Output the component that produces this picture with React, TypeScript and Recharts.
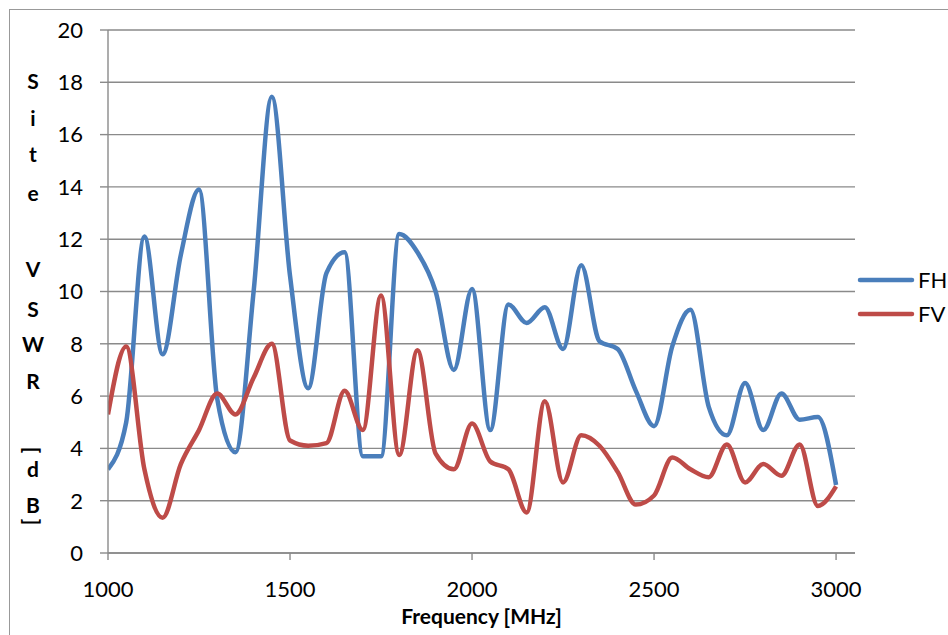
import { LineChart, Line, XAxis, YAxis, CartesianGrid } from "recharts";

// frequency in MHz, 50 MHz steps
const freqs = [
  1000, 1050, 1100, 1150, 1200, 1250, 1300, 1350, 1400, 1450,
  1500, 1550, 1600, 1650, 1700, 1750, 1800, 1850, 1900, 1950,
  2000, 2050, 2100, 2150, 2200, 2250, 2300, 2350, 2400, 2450,
  2500, 2550, 2600, 2650, 2700, 2750, 2800, 2850, 2900, 2950, 3000,
];

const fh = [
  3.2, 5.0, 12.1, 7.6, 11.4, 13.9, 5.9, 3.85, 10.0, 17.45,
  10.6, 6.3, 10.7, 11.5, 3.7, 3.7, 12.2, 11.5, 10.0, 7.0,
  10.1, 4.7, 9.5, 8.8, 9.4, 7.8, 11.0, 8.1, 7.8, 6.2,
  4.85, 7.9, 9.3, 5.6, 4.5, 6.5, 4.7, 6.1, 5.1, 5.2, 2.6,
];

const fv = [
  5.3, 7.9, 3.2, 1.35, 3.4, 4.7, 6.1, 5.3, 6.7, 8.0,
  4.3, 4.1, 4.2, 6.2, 4.7, 9.85, 3.75, 7.75, 3.8, 3.2,
  4.95, 3.5, 3.2, 1.55, 5.8, 2.7, 4.5, 4.1, 3.1, 1.85,
  2.2, 3.65, 3.2, 2.9, 4.15, 2.7, 3.4, 2.95, 4.15, 1.8, 2.55,
];

const xTicks = [1000, 1500, 2000, 2500, 3000];
const yTicks = [0, 2, 4, 6, 8, 10, 12, 14, 16, 18, 20];
const yLabelChars = ["S", "i", "t", "e", "V", "S", "W", "R", "[", "d", "B", "]"];

const data = freqs.map((f, i) => ({ f, FH: fh[i], FV: fv[i] }));

const FONT = "Lato, 'Open Sans', sans-serif";
const GRID = "#8a8a8a";
const BLUE = "#4a7ebb";
const RED = "#be4b48";

// centre of each stacked letter of the y axis title
const letterY = [80, 117, 153, 192, 268, 308, 343, 380, 450, 468, 504, 522];

const YTitle = () => (
  <g>
    {yLabelChars.map((ch, i) => {
      const rotated = ch === "[" || ch === "]";
      return (
        <g key={i} transform={`translate(33 ${letterY[i]})${rotated ? " rotate(90)" : ""}`}>
          <text
            x={0}
            y={0}
            textAnchor="middle"
            dominantBaseline="central"
            fontFamily={FONT}
            fontWeight="bold"
            fontSize={21}
            fill="#000"
          >
            {ch}
          </text>
        </g>
      );
    })}
  </g>
);

const legendItems = [
  { name: "FH", color: BLUE, top: 280 },
  { name: "FV", color: RED, top: 314 },
];

export default function App() {
  return (
    <div style={{ position: "absolute", left: 0, top: 0, width: 948, height: 635, overflow: "hidden", background: "#fff" }}>
      <div style={{ position: "absolute", left: 9, top: 9, width: 1000, height: 700, border: "1px solid #999" }} />
      <LineChart
        width={948}
        height={635}
        data={data}
        margin={{ top: 30, right: 93, bottom: 0, left: 0 }}
        style={{ position: "absolute", left: 0, top: 0 }}
      >
        <CartesianGrid vertical={false} stroke={GRID} strokeWidth={1.4} />
        <XAxis
          dataKey="f"
          type="number"
          domain={[1000, 3052]}
          ticks={xTicks}
          allowDataOverflow
          height={82}
          tickSize={7}
          tickMargin={21}
          interval={0}
          stroke={GRID}
          strokeWidth={1.4}
          tick={{ fill: "#000", fontSize: 22, fontFamily: FONT }}
          label={{
            value: "Frequency [MHz]",
            position: "insideBottom",
            offset: 11,
            style: { fill: "#000", fontSize: 21, fontWeight: "bold", fontFamily: FONT },
          }}
        />
        <YAxis
          domain={[0, 20]}
          ticks={yTicks}
          width={108}
          tickSize={8}
          tickMargin={17}
          interval={0}
          stroke={GRID}
          strokeWidth={1.4}
          tick={{ fill: "#000", fontSize: 22, fontFamily: FONT }}
          label={{ content: () => <YTitle /> }}
        />
        <Line
          type="monotone"
          dataKey="FH"
          stroke={BLUE}
          strokeWidth={4.5}
          dot={false}
          isAnimationActive={false}
        />
        <Line
          type="monotone"
          dataKey="FV"
          stroke={RED}
          strokeWidth={4.5}
          dot={false}
          isAnimationActive={false}
        />
      </LineChart>
      {legendItems.map((it) => (
        <div
          key={it.name}
          style={{ position: "absolute", left: 857, top: it.top - 14, height: 28, display: "flex", alignItems: "center" }}
        >
          <svg width={58} height={10} style={{ display: "block" }}>
            <line x1={3} y1={5} x2={55} y2={5} stroke={it.color} strokeWidth={4.5} strokeLinecap="round" />
          </svg>
          <span style={{ fontFamily: FONT, fontSize: 22, color: "#000", marginLeft: 3, lineHeight: "28px" }}>{it.name}</span>
        </div>
      ))}
    </div>
  );
}
